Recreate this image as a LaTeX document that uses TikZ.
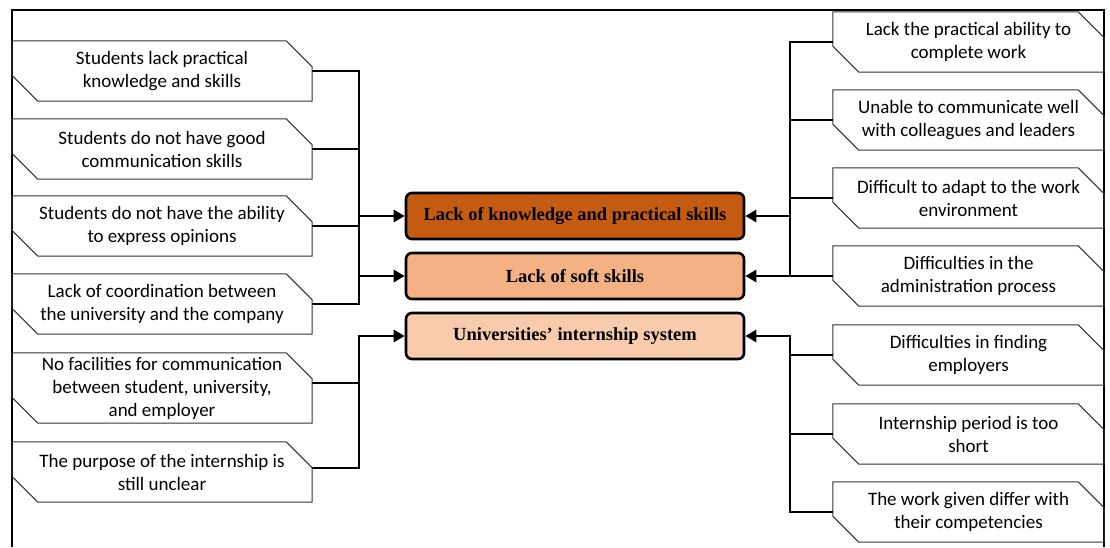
\documentclass[tikz,border=0pt]{standalone}
\usepackage{fontspec}
\setmainfont{Carlito}
\newfontfamily\headfont{Liberation Serif}
\usetikzlibrary{arrows.meta}

\definecolor{issuedark}{HTML}{C55A11}
\definecolor{issuemid}{HTML}{F4B183}
\definecolor{issuelight}{HTML}{F8CBAD}

\tikzset{
    cause/.style={minimum height=60pt, inner sep=0pt, align=center,
        font=\fontsize{19}{23}\selectfont},
    lcause/.style={cause, minimum width=300pt},
    rcause/.style={cause, minimum width=271pt},
    outline/.style={draw=black!80, line width=1pt},
    topic/.style={draw, line width=2.6pt, rounded corners=6pt,
        minimum width=338pt, minimum height=46pt, inner sep=0pt,
        font=\headfont\bfseries\fontsize{18.5}{20}\selectfont},
    link/.style={line width=2.9pt},
    feed/.style={link, -{Triangle[length=11pt,width=12pt]}},
}

\begin{document}
\begin{tikzpicture}[x=1pt,y=-1pt]
        \useasboundingbox (0,0) rectangle (1110,547);
        \draw[line width=2pt] (12,547)--(12,10)--(1104,10)--(1104,547);

        % causes on the left
        \node[lcause] (l1) at (162,71) {Students lack practical\\knowledge and skills};
        \node[lcause] (l2) at (162,149) {Students do not have good\\communication skills};
        \node[lcause] (l3) at (162,226) {Students do not have the ability\\to express opinions};
        \node[lcause] (l4) at (162,304) {Lack of coordination between\\the university and the company};
        \node[lcause, minimum height=70pt] (l5) at (162,388) {No facilities for communication\\between student, university,\\and employer};
        \node[lcause] (l6) at (162,472) {The purpose of the internship is\\still unclear};

        % causes on the right
        \node[rcause] (r1) at (968.5,42) {Lack the practical ability to\\complete work};
        \node[rcause] (r2) at (968.5,120) {Unable to communicate well\\with colleagues and leaders};
        \node[rcause] (r3) at (968.5,198) {Difficult to adapt to the work\\environment};
        \node[rcause] (r4) at (968.5,276) {Difficulties in the\\administration process};
        \node[rcause] (r5) at (968.5,355) {Difficulties in finding\\employers};
        \node[rcause] (r6) at (968.5,434) {Internship period is too\\short};
        \node[rcause] (r7) at (968.5,512) {The work given differ with\\their competencies};

        \foreach \n in {l1,l2,l3,l4,l5,l6,r1,r2,r3,r4,r5,r6,r7}{
            \draw[outline] (\n.north west) -- ([xshift=-26pt]\n.north east)
                -- ([yshift=-26pt]\n.north east) -- (\n.south east)
                -- ([xshift=26pt]\n.south west) -- ([yshift=26pt]\n.south west) -- cycle;
            };

        % main problems
        \node[topic, fill=issuedark] (c1) at (575,216) {Lack of knowledge and practical skills};
        \node[topic, fill=issuemid] (c2) at (575,276) {Lack of soft skills};
        \node[topic, fill=issuelight] (c3) at (575,336) {Universities’ internship system};

        \coordinate (lb) at (359,0);
        \coordinate (rb) at (790,0);

        % left buses
        \draw[link] (l1.east) -| (l4.east -| lb) -- (l4.east);
        \foreach \n in {l2,l3}{
            \draw[link] (\n.east) -- (\n.east -| lb);
            };
        \draw[feed] (c1.west -| lb) -- (c1.west);
        \draw[feed] (c2.west -| lb) -- (c2.west);
        \draw[link] ([yshift=5pt]l5.east) -- +(47,0);
        \draw[feed] ([yshift=4pt]l6.east) -| (c3.west -| lb) -- (c3.west);

        % right buses
        \draw[link] (r1.west) -| (r4.west -| rb) -- (r4.west);
        \foreach \n in {r2,r3}{
            \draw[link] (\n.west) -- (\n.west -| rb);
            };
        \draw[feed] (c1.east -| rb) -- (c1.east);
        \draw[feed] (c2.east -| rb) -- (c2.east);
        \draw[feed] (r7.west) -| (c3.east -| rb) -- (c3.east);
        \foreach \n in {r5,r6}{
            \draw[link] (\n.west) -- (\n.west -| rb);
            };
\end{tikzpicture}
\end{document}
